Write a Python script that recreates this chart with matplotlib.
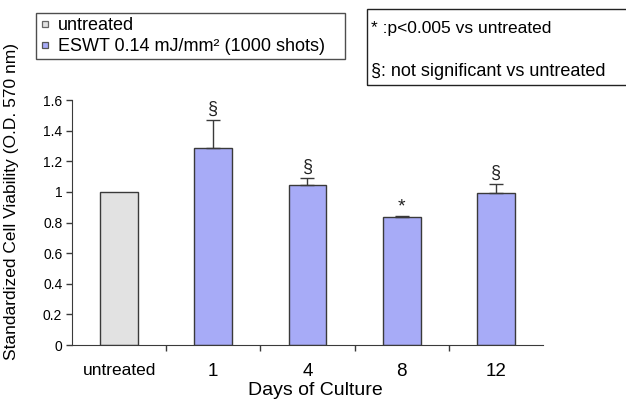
import matplotlib
matplotlib.use('Agg')
import matplotlib.pyplot as plt
from matplotlib.lines import Line2D
from matplotlib.patches import Rectangle

plt.rcParams['font.family'] = ['Liberation Sans', 'DejaVu Sans']

# data
groups = ['untreated', '1', '4', '8', '12']
viability = [1.00, 1.285, 1.043, 0.838, 0.993]
err_up = [0.0, 0.185, 0.050, 0.005, 0.057]
marks = ['', '§', '§', '*', '§']
yticks = [0, 0.2, 0.4, 0.6, 0.8, 1, 1.2, 1.4, 1.6]
ytick_labels = ['0', '0.2', '0.4', '0.6', '0.8', '1', '1.2', '1.4', '1.6']

gray = '#e2e2e2'
blue = '#a7abf7'
edge = '#3a3a3a'

fig = plt.figure(figsize=(6.26, 4.04), dpi=100)
ax = fig.add_axes([0.115, 0.146, 0.7524, 0.6064])

x = list(range(len(groups)))
colors = [gray] + [blue] * (len(groups) - 1)
ax.bar(x, viability, width=0.4, color=colors, edgecolor=edge, linewidth=1.0, zorder=2)

# only the upper half of the error bars is drawn
for xi, v, e in zip(x, viability, err_up):
    if e > 0:
        ax.errorbar(xi, v, yerr=[[0], [e]], fmt='none', ecolor=edge,
                    elinewidth=1.0, capsize=5, capthick=1.0, zorder=3)

for xi, v, e, m in zip(x, viability, err_up, marks):
    if m == '§':
        ax.text(xi, v + e + 0.015, m, ha='center', va='bottom', fontsize=13, color='#222222')
    elif m == '*':
        ax.text(xi, v + e + 0.0, m, ha='center', va='bottom', fontsize=14, color='#222222')

ax.set_xlim(-0.5, 4.5)
ax.set_ylim(0, 1.6)
ax.set_yticks(yticks)
ax.set_yticklabels(ytick_labels, fontsize=10)
ax.set_xticks(x)
ax.set_xticklabels(groups)
for i, lab in enumerate(ax.get_xticklabels()):
    lab.set_fontsize(12.5 if i == 0 else 13.5)
ax.set_xticks([0.5, 1.5, 2.5, 3.5], minor=True)
ax.tick_params(axis='x', which='major', length=0, pad=13)
ax.tick_params(axis='x', which='minor', length=4, direction='out', width=1.0, color=edge)
ax.tick_params(axis='y', length=4, direction='out', width=1.0, color=edge, pad=3)

ax.spines['top'].set_visible(False)
ax.spines['right'].set_visible(False)
ax.spines['left'].set_color(edge)
ax.spines['bottom'].set_color(edge)

ax.set_xlabel('Days of Culture', fontsize=14)
ax.xaxis.set_label_coords(0.516, -0.15)
ax.set_ylabel('Standardized Cell Viability (O.D. 570 nm)', fontsize=12.5)
ax.yaxis.set_label_coords(-0.112, 0.584)

# legend box for the two groups
handles = [
    Line2D([], [], marker='s', linestyle='none', markersize=5,
           markerfacecolor=gray, markeredgecolor='#666666', markeredgewidth=0.9),
    Line2D([], [], marker='s', linestyle='none', markersize=5,
           markerfacecolor=blue, markeredgecolor='#555555', markeredgewidth=0.9),
]
leg = fig.legend(handles, ['untreated', 'ESWT 0.14 mJ/mm² (1000 shots)'],
                 loc='lower left', mode='expand',
                 bbox_to_anchor=(36 / 626, 1 - 59 / 404, 309 / 626, 51 / 404),
                 fontsize=13, frameon=True, fancybox=False, handlelength=0.6,
                 handletextpad=0.4, borderpad=0.2, labelspacing=0.25,
                 borderaxespad=0)
leg.get_frame().set_edgecolor('#222222')
leg.get_frame().set_linewidth(1.0)

# significance key box
fig.patches.append(Rectangle((367 / 626, 1 - 85 / 404), 265 / 626, 76 / 404,
                             transform=fig.transFigure, fill=False,
                             edgecolor='#222222', linewidth=1.0))
fig.text(371 / 626, 1 - 28 / 404, '* :p<0.005 vs untreated', fontsize=12.5,
         ha='left', va='center')
fig.text(371 / 626, 1 - 71 / 404, '§: not significant vs untreated', fontsize=13,
         ha='left', va='center')

fig.savefig('out.png', dpi=100)
